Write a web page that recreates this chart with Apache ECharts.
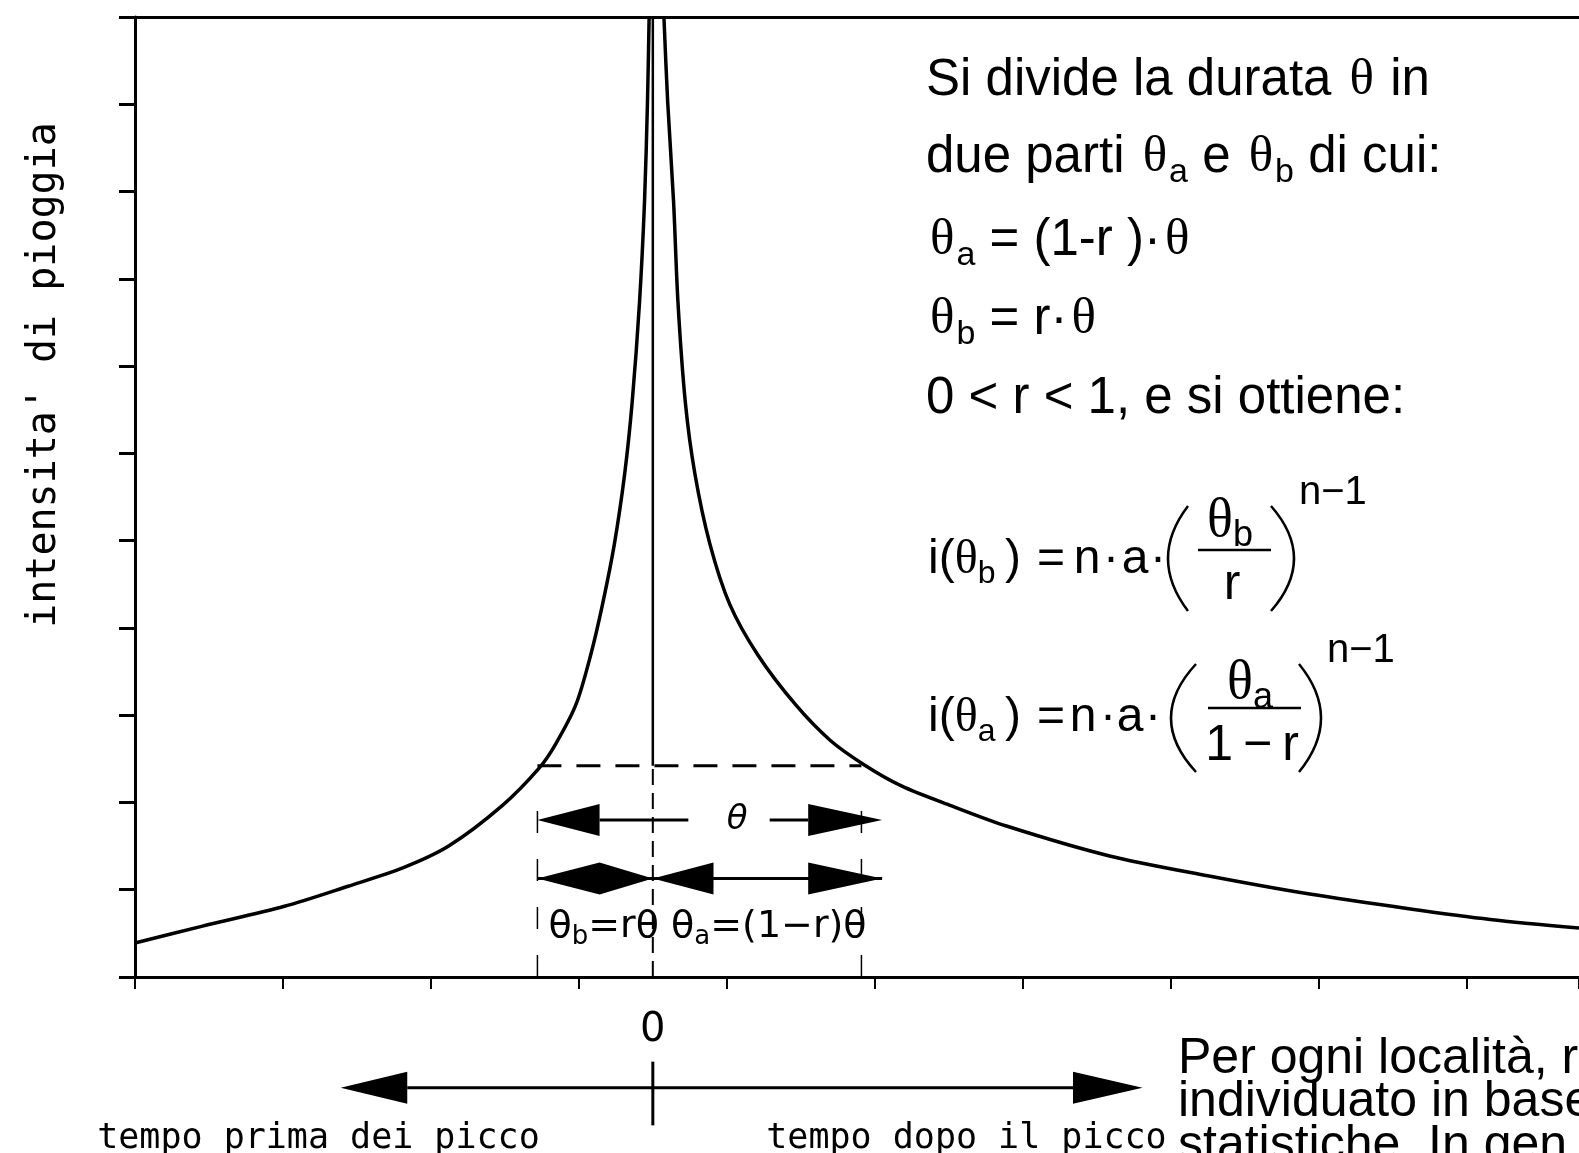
<!DOCTYPE html>
<html>
<head>
<meta charset="utf-8">
<script src="https://cdn.jsdelivr.net/npm/echarts@6/dist/echarts.min.js"></script>
<style>
  html, body { margin: 0; padding: 0; background: #fff; }
  #chart { width: 1579px; height: 1153px; }
</style>
</head>
<body>
<div id="chart"></div>
<script>
// ietogramma: t in passi di tacca (0 = picco), i in passi di tacca verticale
const beforeT = [-3.5, -3.05, -2.49, -2.06, -1.69, -1.38, -1.02, -0.77, -0.66, -0.52, -0.42, -0.34, -0.26, -0.19, -0.14, -0.09, -0.056, -0.036, -0.025];
const beforeI = [0.39, 0.58, 0.81, 1.04, 1.25, 1.50, 1.96, 2.39, 2.66, 3.12, 3.69, 4.27, 4.96, 5.77, 6.58, 7.73, 8.89, 10.04, 11.0];
const afterT = [0.075, 0.10, 0.14, 0.17, 0.22, 0.284, 0.386, 0.52, 0.71, 0.965, 1.20, 1.43, 1.68, 2.02, 2.39, 3.08, 3.75, 4.44, 5.12, 5.66, 6.26];
const afterI = [11.0, 10.04, 8.89, 7.73, 6.58, 5.77, 4.96, 4.27, 3.69, 3.12, 2.71, 2.43, 2.19, 1.96, 1.73, 1.39, 1.16, 0.95, 0.78, 0.66, 0.56];

// durata theta e linee di riferimento [t1, i1, t2, i2]
const peakSolid = [[0, 2.42, 0, 11]];
const peakDashed = [[0, 0, 0, 2.42]];
const thetaSpan = [[-0.78, 2.42, 1.41, 2.42]];
const guideLines = [[-0.78, 0, -0.78, 2.09], [1.41, 0, 1.41, 2.09]];
const arrowShafts = [
  [-0.36, 1.80, 0.24, 1.80],
  [0.79, 1.80, 1.05, 1.80],
  [-0.78, 1.13, 1.55, 1.13],
  [-1.66, -1.27, 2.84, -1.27],
  [0, -0.97, 0, -1.70]
];
// punte: [punta, base, fine, livello]
const arrowHeads = [
  [-0.78, -0.36, -0.36, 1.80],
  [1.55, 1.05, 1.05, 1.80],
  [-0.78, -0.36, 0, 1.13],
  [0, 0.41, 0.41, 1.13],
  [1.55, 1.05, 1.05, 1.13],
  [-2.11, -1.66, -1.66, -1.27],
  [3.31, 2.84, 2.84, -1.27]
];

const markLabels = ['θ', '{m|θ}{s|b}{m|=rθ θ}{s|a}{m|=(1−r)θ}', '0', 'tempo prima dei picco', 'tempo dopo il picco'];
const markLabelT = [0.57, 0.37, 0, -2.26, 2.12];
const markLabelI = [1.80, 0.57, -0.62, -1.85, -1.85];

const yName = "intensita' di pioggia";
const noteLines = [
  'Si divide la durata {t|θ} in',
  'due parti {t|θ}{s|a} e {t|θ}{s|b} di cui:',
  '{t|θ}{s|a} = (1-r )·{t|θ}',
  '{t|θ}{s|b} = r·{t|θ}',
  '0 < r < 1, e si ottiene:'
];
const footLines = ['Per ogni località, r', 'individuato in base', 'statistiche. In gen'];

const black = '#000';
const chart = echarts.init(document.getElementById('chart'));

function curve(name, t, v) {
  return {
    name: name, type: 'line', data: t.map((x, i) => [x, v[i]]),
    smooth: 0.3, symbol: 'none', silent: true, z: 3,
    lineStyle: { color: black, width: 3.5 }
  };
}

function segSeries(data, style) {
  return {
    type: 'custom', data: data, clip: false, silent: true, z: 4,
    encode: { x: [0, 2], y: [1, 3] },
    renderItem: function (params, api) {
      const a = api.coord([api.value(0), api.value(1)]);
      const b = api.coord([api.value(2), api.value(3)]);
      return {
        type: 'line',
        shape: { x1: a[0], y1: a[1], x2: b[0], y2: b[1] },
        style: Object.assign({ stroke: black, fill: null }, style)
      };
    }
  };
}

const labelFonts = [
  'italic 34px "DejaVu Sans"',
  '38px "DejaVu Sans"',
  '40px "DejaVu Sans"',
  '35px "DejaVu Sans Mono"',
  '35px "DejaVu Sans Mono"'
];

// testo a destra
const noteY = [81, 158, 241, 320, 399];
const noteRich = {
  t: { fontFamily: 'Liberation Serif', fontSize: 51, lineHeight: 64, padding: [0, 2, 0, 4] },
  s: { fontFamily: 'Liberation Sans', fontSize: 34, lineHeight: 34, verticalAlign: 'bottom' }
};
const fRich = {
  r: { fontFamily: 'Liberation Sans', fontSize: 48, lineHeight: 60 },
  t: { fontFamily: 'Liberation Serif', fontSize: 48, lineHeight: 60 },
  s: { fontFamily: 'Liberation Sans', fontSize: 32, lineHeight: 32, verticalAlign: 'bottom' },
  T: { fontFamily: 'Liberation Serif', fontSize: 54, lineHeight: 64 },
  S: { fontFamily: 'Liberation Sans', fontSize: 36, lineHeight: 36, verticalAlign: 'bottom' }
};
function ftxt(x, y, text, align, size) {
  return {
    type: 'text', x: x, y: y,
    style: {
      text: text, fontFamily: 'Liberation Sans', fontSize: size || 48, lineHeight: 60,
      fill: black, textAlign: align || 'center', textVerticalAlign: 'middle', rich: fRich
    }
  };
}
function paren(x, yTop, cpx, yBot) {
  return {
    type: 'bezierCurve',
    shape: { x1: x, y1: yTop, x2: x, y2: yBot, cpx1: cpx, cpy1: (yTop + yBot) / 2 },
    style: { stroke: black, lineWidth: 2.5, fill: null }
  };
}
function bar(xa, xb, y) {
  return { type: 'line', shape: { x1: xa, y1: y, x2: xb, y2: y }, style: { stroke: black, lineWidth: 2.5 } };
}

const graphics = noteLines.map((s, i) => ({
  type: 'text', x: 926, y: noteY[i],
  style: {
    text: s, fontFamily: 'Liberation Sans', fontSize: 51, lineHeight: 64, fill: black,
    textAlign: 'left', textVerticalAlign: 'middle', rich: noteRich
  }
})).concat([
  // i(theta_b)
  ftxt(928, 560, '{r|i(}{t|θ}{s|b}{r|\u2009)}', 'left'),
  ftxt(1051, 560, '='), ftxt(1087, 560, 'n'), ftxt(1111, 560, '·'), ftxt(1135, 560, 'a'), ftxt(1158, 560, '·'),
  paren(1188, 506, 1148, 611),
  ftxt(1230, 522, '{T|θ}{S|b}'),
  bar(1198, 1271, 550),
  ftxt(1232, 585, 'r', 'center', 50),
  paren(1271, 506, 1317, 611),
  ftxt(1299, 493, 'n−1', 'left', 40),
  // i(theta_a)
  ftxt(928, 718, '{r|i(}{t|θ}{s|a}{r|\u2009)}', 'left'),
  ftxt(1051, 718, '='), ftxt(1083, 718, 'n'), ftxt(1108, 718, '·'), ftxt(1130, 718, 'a'), ftxt(1153, 718, '·'),
  paren(1196, 664, 1146, 772),
  ftxt(1250, 684, '{T|θ}{S|a}'),
  bar(1208, 1301, 708),
  ftxt(1252, 746, '1\u2009−\u2009r', 'center', 50),
  paren(1299, 664, 1343, 772),
  ftxt(1327, 651, 'n−1', 'left', 40),
  {
    type: 'text', x: 1178, y: 1037,
    style: {
      text: footLines.join('\n'), fontFamily: 'Liberation Sans', fontSize: 50, lineHeight: 43.5,
      fill: black, textAlign: 'left', textVerticalAlign: 'top'
    }
  }
]);

const option = {
  backgroundColor: '#fff',
  animation: false,
  grid: { left: 135, right: 0, top: 17, bottom: 176 },
  xAxis: [
    {
      type: 'value', min: -3.5, max: 6.26, interval: 1, position: 'bottom',
      axisLine: { onZero: false, lineStyle: { color: black, width: 3 } },
      axisTick: { length: 12, lineStyle: { color: black, width: 2 } },
      axisLabel: { show: false }, splitLine: { show: false }
    },
    {
      type: 'value', min: -3.5, max: 6.26, position: 'top',
      axisLine: { onZero: false, lineStyle: { color: black, width: 3 } },
      axisTick: { show: false }, axisLabel: { show: false }, splitLine: { show: false }
    }
  ],
  yAxis: {
    type: 'value', min: 0, max: 11, interval: 1,
    name: yName, nameLocation: 'middle', nameRotate: 90, nameGap: 70,
    nameTextStyle: { fontFamily: 'DejaVu Sans Mono', fontSize: 40, color: black, padding: [0, 0, 0, 244] },
    axisLine: { onZero: false, lineStyle: { color: black, width: 3 } },
    axisTick: { length: 16, lineStyle: { color: black, width: 3 } },
    axisLabel: { show: false }, splitLine: { show: false }
  },
  series: [
    curve('prima del picco', beforeT, beforeI),
    curve('dopo il picco', afterT, afterI),
    segSeries(peakSolid, { lineWidth: 2.5 }),
    segSeries(peakDashed, { lineWidth: 2, lineDash: [16, 8] }),
    segSeries(thetaSpan, { lineWidth: 3, lineDash: [24, 15] }),
    segSeries(guideLines, { lineWidth: 1.5, lineDash: [22, 26] }),
    segSeries(arrowShafts, { lineWidth: 3 }),
    {
      type: 'custom', data: arrowHeads, clip: false, silent: true, z: 5,
      encode: { x: [0, 1, 2], y: 3 },
      renderItem: function (params, api) {
        const tip = api.coord([api.value(0), api.value(3)]);
        const mid = api.coord([api.value(1), api.value(3)]);
        const end = api.coord([api.value(2), api.value(3)]);
        const h = 16;
        return {
          type: 'polygon',
          shape: { points: [tip, [mid[0], mid[1] - h], end, [mid[0], mid[1] + h]] },
          style: { fill: black }
        };
      }
    },
    {
      type: 'custom', data: markLabelT.map((t, i) => [t, markLabelI[i]]), clip: false, silent: true, z: 6,
      encode: { x: 0, y: 1 },
      renderItem: function (params, api) {
        const p = api.coord([api.value(0), api.value(1)]);
        const i = params.dataIndex;
        return {
          type: 'text', x: p[0], y: p[1],
          style: {
            text: markLabels[i], font: labelFonts[i], fill: black,
            textAlign: 'center', textVerticalAlign: 'middle',
            rich: {
              m: { fontFamily: 'DejaVu Sans', fontSize: 38, lineHeight: 46 },
              s: { fontFamily: 'DejaVu Sans', fontSize: 26, lineHeight: 26, verticalAlign: 'bottom' }
            }
          }
        };
      }
    }
  ],
  graphic: graphics
};

chart.setOption(option);
</script>
</body>
</html>
